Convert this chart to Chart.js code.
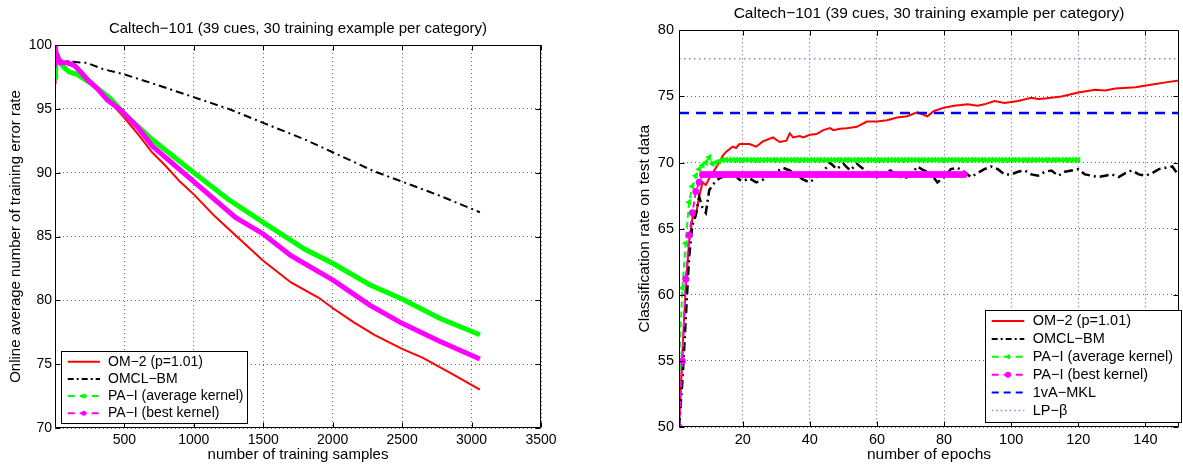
<!DOCTYPE html>
<html><head><meta charset="utf-8">
<script src="https://cdn.jsdelivr.net/npm/chart.js@4.4.1/dist/chart.umd.min.js"></script>
<style>
html,body{margin:0;padding:0;background:#fff;width:1183px;height:466px;overflow:hidden}
canvas{position:absolute;top:0}
#c1{left:0}
#c2{left:600px}
</style></head><body>
<canvas id="c1" width="595" height="466"></canvas>
<canvas id="c2" width="583" height="466"></canvas>
<script>
// ---------------- text ----------------
const chartTitle = 'Caltech−101 (39 cues, 30 training example per category)';
const seriesNames = ['OM−2 (p=1.01)', 'OMCL−BM', 'PA−I (average kernel)', 'PA−I (best kernel)', '1vA−MKL', 'LP−β'];
const leftXTitle = 'number of training samples';
const leftYTitle = 'Online average number of training error rate';
const rightXTitle = 'number of epochs';
const rightYTitle = 'Classification rate on test data';

// ---------------- left chart data ----------------
const leftXTicks = [500, 1000, 1500, 2000, 2500, 3000, 3500];
const leftYTicks = [70, 75, 80, 85, 90, 95, 100];

const om2LeftX = [1, 5, 10, 20, 40, 80, 120, 200, 300, 400, 500, 600, 700, 800, 900, 1000, 1150, 1300, 1500, 1700, 1900, 2000, 2150, 2300, 2500, 2650, 2850, 3060];
const om2LeftY = [97.0, 97.2, 98.5, 99.0, 98.8, 98.6, 98.5, 97.6, 96.5, 95.5, 94.3, 93.0, 91.6, 90.5, 89.3, 88.3, 86.6, 85.1, 83.1, 81.4, 80.2, 79.4, 78.3, 77.3, 76.2, 75.5, 74.3, 73.0];

const omclLeftX = [1, 50, 110, 230, 350, 500, 700, 950, 1250, 1500, 1800, 2000, 2300, 2500, 2770, 3060];
const omclLeftY = [99.0, 98.8, 98.7, 98.6, 98.1, 97.7, 97.0, 96.1, 95.0, 93.9, 92.6, 91.6, 90.1, 89.3, 88.2, 86.9];

const paAvgLeftX = [1, 5, 10, 17, 30, 60, 100, 160, 260, 400, 500, 700, 850, 1000, 1250, 1500, 1800, 2000, 2270, 2500, 2770, 3060];
const paAvgLeftY = [97.5, 98.0, 98.6, 99.2, 98.8, 98.3, 97.9, 97.7, 97.0, 95.8, 94.6, 92.6, 91.3, 90.0, 87.9, 86.1, 84.0, 82.9, 81.2, 80.1, 78.6, 77.3];

const paBestLeftX = [1, 5, 10, 20, 40, 90, 140, 185, 233, 305, 377, 474, 593, 700, 850, 1000, 1300, 1500, 1700, 2000, 2270, 2500, 2770, 3060];
const paBestLeftY = [100, 99.2, 98.8, 99.1, 98.6, 98.6, 98.4, 97.9, 97.3, 96.6, 95.7, 94.9, 93.6, 92.1, 90.7, 89.3, 86.5, 85.2, 83.5, 81.6, 79.6, 78.2, 76.8, 75.4];

// ---------------- right chart data ----------------
const rightXTicks = [20, 40, 60, 80, 100, 120, 140];
const rightYTicks = [50, 55, 60, 65, 70, 75, 80];

const om2RightX = [
  1, 2, 3, 4, 5, 6, 7, 8, 9, 10,
  11, 12, 13, 14, 15, 16, 17, 18, 19, 20,
  22, 24, 26, 28, 29, 31, 33, 34, 35, 37,
  38, 40, 42, 44, 46, 47, 49, 51, 54, 57,
  60, 63, 66, 69, 72, 73, 75, 77, 80, 83,
  87, 90, 92, 95, 98, 102, 106, 108, 110, 115,
  120, 125, 128, 131, 137, 142, 147, 150];
const om2RightY = [
  50.0, 55.5, 60.5, 64.0, 65.8, 66.0, 67.4, 68.5, 68.3, 68.8,
  69.2, 69.6, 70.0, 70.5, 70.8, 71.0, 71.2, 71.1, 71.4, 71.4,
  71.4, 71.2, 71.6, 71.8, 71.9, 71.55, 71.65, 72.2, 71.9, 72.0,
  71.9, 72.1, 72.15, 72.45, 72.6, 72.45, 72.55, 72.6, 72.7, 73.1,
  73.1, 73.2, 73.4, 73.5, 73.8, 73.7, 73.5, 73.9, 74.15, 74.3,
  74.4, 74.3, 74.4, 74.65, 74.5, 74.65, 74.9, 74.8, 74.85, 75.0,
  75.3, 75.5, 75.45, 75.6, 75.7, 75.9, 76.1, 76.2];

const omclRightX = [
  1, 2, 3, 4, 5, 6, 7, 8, 9, 10,
  11, 12, 13, 15, 17, 19, 20, 22, 24, 26,
  28, 30, 32, 34, 36, 38, 40, 42, 44, 46,
  48, 50, 52, 54, 56, 58, 60, 62, 64, 66,
  68, 70, 72, 74, 76, 78, 80, 82, 84, 86,
  88, 90, 92, 94, 96, 98, 100, 102, 104, 106,
  108, 110, 112, 114, 116, 118, 120, 122, 124, 126,
  128, 130, 132, 134, 136, 138, 140, 142, 144, 146,
  148, 150];
const omclRightY = [
  50.0, 53.4, 58.1, 62.8, 65.3, 66.0, 67.4, 66.6, 66.2, 67.9,
  68.3, 68.6, 68.8, 69.0, 69.2, 68.7, 68.6, 68.8, 68.5, 68.7,
  69.1, 69.3, 69.6, 69.4, 69.1, 68.7, 68.5, 68.9, 69.3, 70.0,
  69.5, 69.9, 69.4, 69.9, 69.5, 69.1, 68.9, 69.2, 69.4, 69.0,
  68.8, 69.0, 69.7, 69.4, 69.2, 68.5, 68.9, 69.5, 69.6, 69.3,
  68.9, 69.2, 69.5, 69.7, 69.5, 69.1, 69.1, 69.3, 69.4, 69.1,
  69.0, 69.3, 69.4, 69.0, 69.3, 69.4, 69.5, 69.1, 69.0, 68.9,
  69.0, 69.1, 68.9, 69.2, 69.4, 69.1, 69.0, 69.2, 69.5, 69.6,
  69.7, 69.0];

// one value per epoch (epoch = index + 1)
const paAvgRightY = [
  54.5, 60.5, 63.9, 67.0, 68.2, 69.0, 69.5, 69.8, 70.0, 70.4,
  69.9, 70.0, 70.1, 70.2, 70.2, 70.2, 70.2, 70.2, 70.2, 70.2,
  70.2, 70.2, 70.2, 70.2, 70.2, 70.2, 70.2, 70.2, 70.2, 70.2,
  70.2, 70.2, 70.2, 70.2, 70.2, 70.2, 70.2, 70.2, 70.2, 70.2,
  70.2, 70.2, 70.2, 70.2, 70.2, 70.2, 70.2, 70.2, 70.2, 70.2,
  70.2, 70.2, 70.2, 70.2, 70.2, 70.2, 70.2, 70.2, 70.2, 70.2,
  70.2, 70.2, 70.2, 70.2, 70.2, 70.2, 70.2, 70.2, 70.2, 70.2,
  70.2, 70.2, 70.2, 70.2, 70.2, 70.2, 70.2, 70.2, 70.2, 70.2,
  70.2, 70.2, 70.2, 70.2, 70.2, 70.2, 70.2, 70.2, 70.2, 70.2,
  70.2, 70.2, 70.2, 70.2, 70.2, 70.2, 70.2, 70.2, 70.2, 70.2,
  70.2, 70.2, 70.2, 70.2, 70.2, 70.2, 70.2, 70.2, 70.2, 70.2,
  70.2, 70.2, 70.2, 70.2, 70.2, 70.2, 70.2, 70.2, 70.2, 70.2];
const paBestRightY = [
  50.0, 55.0, 61.2, 64.5, 66.2, 67.8, 68.5, 69.1, 69.1, 69.1,
  69.1, 69.1, 69.1, 69.1, 69.1, 69.1, 69.1, 69.1, 69.1, 69.1,
  69.1, 69.1, 69.1, 69.1, 69.1, 69.1, 69.1, 69.1, 69.1, 69.1,
  69.1, 69.1, 69.1, 69.1, 69.1, 69.1, 69.1, 69.1, 69.1, 69.1,
  69.1, 69.1, 69.1, 69.1, 69.1, 69.1, 69.1, 69.1, 69.1, 69.1,
  69.1, 69.1, 69.1, 69.1, 69.1, 69.1, 69.1, 69.1, 69.1, 69.1,
  69.1, 69.1, 69.1, 69.1, 69.1, 69.1, 69.1, 69.1, 69.1, 69.1,
  69.1, 69.1, 69.1, 69.1, 69.1, 69.1, 69.1, 69.1, 69.1, 69.1,
  69.1, 69.1, 69.1, 69.1, 69.1, 69.1];

const mklX = [1, 150];
const mklY = [73.75, 73.75];
const lpBetaX = [1, 150];
const lpBetaY = [77.85, 77.85];

// ---------------- helpers ----------------
const FONT = '"Liberation Sans", Arial, Helvetica, sans-serif';
Chart.defaults.font.family = FONT;
Chart.defaults.color = '#000';
const zip = (xs, ys) => xs.map((x, i) => ({x, y: ys[i]}));
const byEpoch = ys => ys.map((y, i) => ({x: i + 1, y}));

// centre the chart title over the plot area (as MATLAB does)
const titleOverArea = {
  id: 'titleOverArea',
  afterLayout(chart) {
    const tb = chart.titleBlock;
    if (tb) {
      tb.left = chart.chartArea.left;
      tb.right = chart.chartArea.right;
      tb.width = tb.right - tb.left;
    }
  }
};

const framePlugin = {
  id: 'frame',
  afterDatasetsDraw(chart) {
    const {ctx, chartArea: a, scales} = chart;
    ctx.save();
    ctx.strokeStyle = '#000';
    ctx.lineWidth = 1;
    ctx.setLineDash([]);
    const L = Math.round(a.left) + 0.5, R = Math.round(a.right) - 0.5;
    const T = Math.round(a.top) + 0.5, B = Math.round(a.bottom) - 0.5;
    ctx.beginPath();
    ctx.rect(L, T, R - L, B - T);
    const tl = 5;
    scales.x.ticks.forEach(t => {
      const px = Math.round(scales.x.getPixelForValue(t.value)) + 0.5;
      ctx.moveTo(px, B); ctx.lineTo(px, B - tl);
      ctx.moveTo(px, T); ctx.lineTo(px, T + tl);
    });
    scales.y.ticks.forEach(t => {
      const py = Math.round(scales.y.getPixelForValue(t.value)) + 0.5;
      ctx.moveTo(L, py); ctx.lineTo(L + tl, py);
      ctx.moveTo(R, py); ctx.lineTo(R - tl, py);
    });
    ctx.stroke();
    ctx.restore();
  }
};

const boxLegend = {
  id: 'boxLegend',
  afterDraw(chart, args, o) {
    const ctx = chart.ctx;
    ctx.save();
    ctx.fillStyle = '#fff';
    ctx.fillRect(o.x, o.y, o.w, o.h);
    ctx.strokeStyle = '#000';
    ctx.lineWidth = 1;
    ctx.setLineDash([]);
    ctx.strokeRect(o.x + 0.5, o.y + 0.5, o.w, o.h);
    ctx.font = o.fontSize + 'px ' + FONT;
    ctx.textBaseline = 'middle';
    ctx.textAlign = 'left';
    chart.data.datasets.forEach((ds, i) => {
      const st = o.styles[i];
      const y = o.y + o.firstRow + i * o.rowH;
      ctx.beginPath();
      ctx.setLineDash(st.dash || []);
      ctx.strokeStyle = ds.borderColor;
      ctx.lineWidth = st.width;
      ctx.moveTo(o.x + o.s0, y);
      ctx.lineTo(o.x + o.s1, y);
      ctx.stroke();
      ctx.setLineDash([]);
      if (st.marker) {
        ctx.fillStyle = ds.borderColor;
        ctx.strokeStyle = ds.borderColor;
        Chart.helpers.drawPoint(ctx, {pointStyle: st.marker, rotation: st.rot || 0, radius: st.r || 3, borderWidth: st.bw || 0}, o.x + (o.s0 + o.s1) / 2, y);
      }
      ctx.fillStyle = '#000';
      ctx.fillText(ds.label, o.x + o.tx, y);
    });
    ctx.restore();
  }
};

function makeScales(c) {
  const gridCommon = {color: '#666', lineWidth: 1, drawTicks: false};
  return {
    x: {
      type: 'linear', min: c.xmin, max: c.xmax,
      afterBuildTicks: s => { s.ticks = c.xTicks.map(v => ({value: v})); },
      afterFit: s => { s.height = c.xHeight; },
      grid: gridCommon,
      border: {display: false, dash: [1, 3]},
      ticks: {font: {size: c.tickSize}, color: '#000', padding: 4, maxRotation: 0, autoSkip: false, callback: v => String(v)},
      title: {display: true, text: c.xTitle, font: {size: c.titleSize}, color: '#000', padding: {top: 0, bottom: c.xTitlePad}}
    },
    y: {
      type: 'linear', min: c.ymin, max: c.ymax,
      afterBuildTicks: s => { s.ticks = c.yTicks.map(v => ({value: v})); },
      afterFit: s => { s.width = c.yWidth; },
      grid: gridCommon,
      border: {display: false, dash: [1, 3]},
      ticks: {font: {size: c.tickSize}, color: '#000', padding: c.yTickPad, autoSkip: false, callback: v => String(v)},
      title: {display: true, text: c.yTitle, font: {size: c.titleSize}, color: '#000', padding: {top: c.yTitlePad, bottom: 0}}
    }
  };
}

// ---------------- left chart ----------------
new Chart(document.getElementById('c1'), {
  type: 'line',
  data: {
    datasets: [
      {label: seriesNames[0], data: zip(om2LeftX, om2LeftY), borderColor: '#ff0000', borderWidth: 2, pointRadius: 0, order: 0},
      {label: seriesNames[1], data: zip(omclLeftX, omclLeftY), borderColor: '#000000', borderWidth: 2, borderDash: [8, 4, 2, 4], pointRadius: 0, order: -1},
      {label: seriesNames[2], data: zip(paAvgLeftX, paAvgLeftY), borderColor: '#00ff00', borderWidth: 5, pointRadius: 0, order: -2},
      {label: seriesNames[3], data: zip(paBestLeftX, paBestLeftY), borderColor: '#ff00ff', borderWidth: 5, pointRadius: 0, order: -3}
    ]
  },
  options: {
    responsive: false, animation: false, devicePixelRatio: 1,
    layout: {padding: {left: 0, right: 54, top: 0, bottom: 0}},
    plugins: {
      legend: {display: false}, tooltip: {enabled: false},
      title: {display: true, text: chartTitle, font: {size: 15, weight: 'normal'}, color: '#000', padding: {top: 20, bottom: 7}},
      boxLegend: {
        x: 61, y: 351, w: 186, h: 72, firstRow: 10.7, rowH: 17.2, s0: 6.7, s1: 39, tx: 47, fontSize: 14,
        styles: [
          {width: 2},
          {width: 2, dash: [6, 3, 2, 3]},
          {width: 2, dash: [7, 5], marker: 'crossRot', r: 2.5, bw: 2},
          {width: 2, dash: [7, 5], marker: 'circle', r: 2.5}
        ]
      }
    },
    scales: makeScales({xmin: 1, xmax: 3500, xTicks: leftXTicks, ymin: 70, ymax: 100, yTicks: leftYTicks,
      yWidth: 55, xHeight: 38, xTitle: leftXTitle, yTitle: leftYTitle, yTitlePad: 7, xTitlePad: 2, yTickPad: 3,
      tickSize: 14, titleSize: 15})
  },
  plugins: [titleOverArea, framePlugin, boxLegend]
});

// ---------------- right chart ----------------
new Chart(document.getElementById('c2'), {
  type: 'line',
  data: {
    datasets: [
      {label: seriesNames[0], data: zip(om2RightX, om2RightY), borderColor: '#ff0000', borderWidth: 2, pointRadius: 0, order: 0},
      {label: seriesNames[1], data: zip(omclRightX, omclRightY), borderColor: '#000000', borderWidth: 2.5, borderDash: [9, 4, 2, 4], pointRadius: 0, order: -1},
      {label: seriesNames[2], data: byEpoch(paAvgRightY), borderColor: '#00ff00', backgroundColor: '#00ff00', borderWidth: 2, borderDash: [6, 4], pointStyle: 'triangle', rotation: -90, pointRadius: 4, pointBorderWidth: 0, pointBackgroundColor: '#00ff00', order: -2},
      {label: seriesNames[3], data: byEpoch(paBestRightY), borderColor: '#ff00ff', backgroundColor: '#ff00ff', borderWidth: 2, borderDash: [6, 4], pointStyle: 'circle', pointRadius: 3.5, pointBorderWidth: 0, pointBackgroundColor: '#ff00ff', order: -3},
      {label: seriesNames[4], data: zip(mklX, mklY), borderColor: '#0000ff', borderWidth: 2.5, borderDash: [10, 7], pointRadius: 0, order: -4},
      {label: seriesNames[5], data: zip(lpBetaX, lpBetaY), borderColor: '#6a8cff', borderWidth: 1.5, borderDash: [1.5, 3.5], pointRadius: 0, order: -5}
    ]
  },
  options: {
    responsive: false, animation: false, devicePixelRatio: 1,
    layout: {padding: {left: 0, right: 0, top: 0, bottom: 0}},
    plugins: {
      legend: {display: false}, tooltip: {enabled: false},
      title: {display: true, text: chartTitle, font: {size: 15.5, weight: 'normal'}, color: '#000', padding: {top: 4, bottom: 7.7}},
      boxLegend: {
        x: 385, y: 310, w: 196, h: 112, firstRow: 11, rowH: 17.9, s0: 6.7, s1: 39.3, tx: 47.7, fontSize: 14.5,
        styles: [
          {width: 2},
          {width: 2, dash: [6, 3, 2, 3]},
          {width: 2, dash: [7, 5], marker: 'triangle', rot: -90, r: 3.5},
          {width: 2, dash: [7, 5], marker: 'circle', r: 3},
          {width: 2, dash: [7, 5]},
          {width: 1.5, dash: [1.5, 3]}
        ]
      }
    },
    scales: makeScales({xmin: 1, xmax: 150, xTicks: rightXTicks, ymin: 50, ymax: 80, yTicks: rightYTicks,
      yWidth: 79, xHeight: 39, xTitle: rightXTitle, yTitle: rightYTitle, yTitlePad: 35.2, xTitlePad: 1.7, yTickPad: 5,
      tickSize: 14.5, titleSize: 15.5})
  },
  plugins: [titleOverArea, framePlugin, boxLegend]
});
</script>
</body></html>
